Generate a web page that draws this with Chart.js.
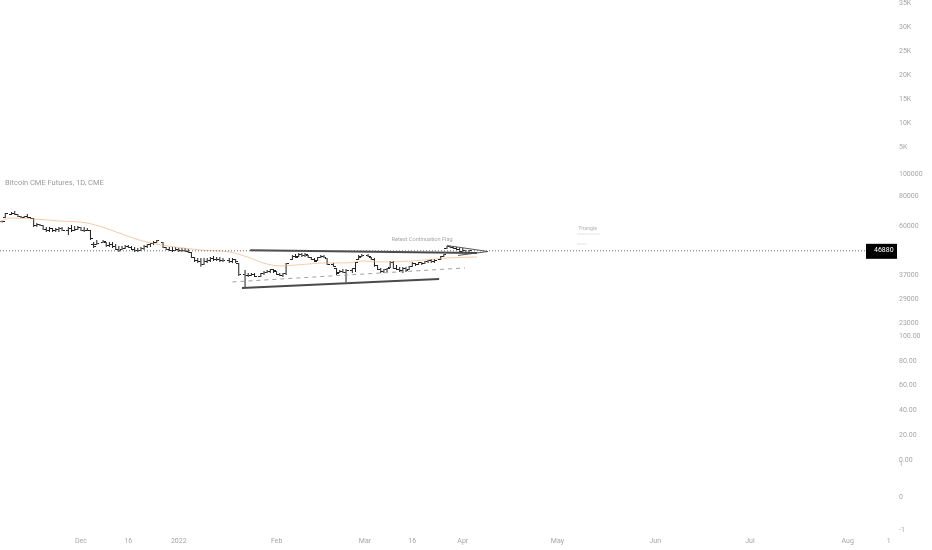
<!DOCTYPE html>
<html>
<head>
<meta charset="utf-8">
<script src="https://cdn.jsdelivr.net/npm/chart.js@4.4.1/dist/chart.umd.min.js"></script>
<style>
  html, body { margin: 0; padding: 0; background: #fff; }
  #wrap { width: 932px; height: 550px; }
</style>
</head>
<body>
<div id="wrap"><canvas id="chart" width="932" height="550"></canvas></div>
<script>
// day offsets from 1 Dec 2021, daily OHLC of the CME bitcoin future
const days = [-25, -24, -22, -21, -20, -19, -18, -17, -16, -15, -14, -13, -12, -11, -10, -9, -8, -7, -6, -4, -3, -2, -1,
  0, 1, 2, 3, 4, 5, 7, 8, 9, 10, 11, 12, 13, 14, 15, 16, 17, 18, 19, 20, 21, 22, 23, 24, 26, 27, 28, 29, 30,
  31, 32, 33, 34, 35, 36, 37, 38, 39, 40, 41, 42, 43, 44, 45, 47, 48, 49, 50, 52, 53, 54, 55, 57, 58, 59, 60,
  61, 62, 63, 64, 65, 67, 68, 69, 70, 71, 72, 73, 74, 75, 76, 77, 78, 80, 81, 82, 83, 84, 86, 87, 88, 89,
  91, 92, 93, 94, 95, 96, 97, 98, 99, 100, 101, 102, 103, 104, 105, 106, 107, 108, 109, 110, 111, 112,
  114, 115, 116, 117, 118, 119, 120, 121, 122, 123];
const opens = [62300, 64900, 67400, 68000, 67000, 66000, 65400, 65800, 65000, 64600, 60000, 60500, 60200, 58000, 57000, 58500, 57000, 57800, 58500, 57500, 58500, 57500, 58000,
  58800, 57500, 57000, 57300, 50000, 49800, 50800, 51000, 49200, 50000, 48800, 47700, 47500, 48000, 48800, 48500, 47500, 46800, 47000, 48000, 49000, 49800, 50400, 51000, 51000, 48500, 47500, 47200, 46900,
  47300, 46800, 47000, 46600, 46200, 43900, 42500, 42000, 41000, 42000, 42800, 43500, 43000, 43200, 42600, 42800, 42300, 42900, 41400, 37000, 36800, 36700, 37200, 36500, 37300, 38000, 38300,
  38800, 38300, 37200, 36900, 37500, 43000, 44300, 44200, 45200, 44600, 44800, 44000, 43000, 42400, 43800, 44500, 43600, 41000, 39400, 37800, 38300, 38000, 38600, 39200, 43000, 44200,
  44900, 44000, 43000, 40500, 39000, 38200, 38800, 39600, 41800, 39500, 39000, 38500, 39200, 38900, 40100, 41500, 40900, 41600, 41200, 42000, 42400, 42000,
  42900, 44200, 47800, 48800, 48400, 47900, 47500, 46600, 47000, 46300];
const highs = [63000, 68100, 68700, 69400, 67400, 66100, 66100, 67400, 65400, 64800, 61700, 61100, 60500, 59300, 59300, 58700, 58700, 59300, 59300, 59300, 60500, 59900, 59900,
  59300, 59300, 58700, 57600, 51100, 52200, 52200, 51100, 51100, 51100, 50100, 49200, 49200, 49700, 49700, 49200, 48700, 48200, 48700, 49700, 50100, 50600, 51600, 52200, 51100, 48700, 48700, 48700, 48700,
  48200, 48200, 48200, 47700, 46300, 44100, 43700, 43700, 43700, 43700, 44100, 44500, 44100, 44100, 43700, 43700, 43700, 43200, 41600, 38800, 37700, 37700, 37700, 37700, 38400, 38800, 39200,
  39200, 38400, 37700, 37700, 41600, 45000, 45400, 45900, 45900, 45900, 45000, 44100, 43700, 44100, 45000, 45000, 43700, 41600, 39600, 38800, 39200, 39200, 39600, 42000, 45000, 45400,
  45400, 44100, 43700, 40800, 39600, 39200, 39600, 42400, 42400, 40800, 40000, 40000, 40000, 40400, 42000, 41600, 42000, 42000, 42400, 42800, 43200, 43200,
  44500, 45400, 49200, 49200, 48700, 48700, 48200, 48200, 47300, 47300];
const lows = [62000, 64800, 66700, 66700, 65400, 64800, 64800, 64800, 64200, 59300, 59300, 59900, 57600, 56400, 56400, 56400, 56400, 56400, 57000, 54800, 56400, 57000, 57600,
  57000, 56400, 57000, 52200, 48200, 49700, 50600, 48700, 48700, 48200, 47300, 46300, 47300, 47700, 48200, 47300, 46300, 46300, 46800, 47300, 48200, 48700, 49700, 50600, 48200, 47300, 46800, 46300, 46800,
  46300, 46300, 46300, 45900, 43700, 42000, 41600, 40100, 40800, 41600, 42000, 42400, 42400, 42000, 42000, 41600, 41600, 41600, 36600, 32800, 36200, 36600, 36200, 36200, 36900, 37700, 37700,
  37700, 36900, 36600, 36200, 36900, 42800, 43700, 44100, 44100, 44100, 43700, 42800, 42000, 42400, 43700, 43700, 40800, 40100, 36900, 37700, 37700, 34500, 37700, 38000, 42800, 44100,
  44100, 42800, 40100, 38800, 37700, 37700, 38000, 39600, 39200, 38800, 38000, 37700, 38000, 38800, 40000, 40400, 40800, 40800, 41200, 41600, 41600, 41600,
  42800, 44100, 47700, 48200, 47700, 47300, 46300, 45900, 45900, 45900];
const closes = [62800, 67500, 68000, 67000, 66000, 65400, 65800, 65000, 64600, 60000, 60500, 60200, 58000, 57000, 58500, 57000, 57800, 58500, 57500, 58500, 57500, 58000, 58800,
  57500, 57000, 57300, 53000, 49000, 50500, 51500, 49200, 50000, 48800, 47700, 47000, 48000, 48800, 48500, 47500, 46800, 47000, 48000, 49000, 49800, 50400, 51000, 51800, 48500, 47500, 47200, 46800, 47300,
  46800, 47000, 46600, 46200, 43900, 42500, 42000, 41000, 42000, 42800, 43500, 43000, 43200, 42600, 42800, 42300, 42900, 42200, 37000, 36800, 36700, 37200, 36500, 37300, 38000, 38300, 38800,
  38500, 37200, 36900, 37500, 41200, 44300, 44000, 45200, 44600, 45300, 44000, 43000, 42200, 43800, 44500, 44000, 41000, 40200, 37500, 38300, 38000, 38600, 39200, 41600, 44000, 44900,
  44300, 43000, 40500, 39000, 38200, 38800, 39200, 41800, 39500, 39000, 38500, 39200, 38600, 40000, 41500, 40900, 41600, 41200, 42000, 42400, 42000, 42800,
  44200, 45000, 48800, 48400, 47900, 47500, 46600, 47000, 46300, 46880];

// orange moving average, read at a few places
const maDays = [-25.7, -22.5, -15.2, -6.7, 1.9, 20.9, 37.7, 47.2, 53.6, 57.7, 63.1, 68.5, 78, 84.3, 89.4, 94.8, 105.2, 116, 125.5];
const maValues = [62300, 64800, 64200, 62900, 61700, 51100, 47300, 46300, 43700, 41600, 40400, 40800, 41600, 41600, 42400, 42000, 42400, 43700, 44100];

const lastPrice = 46880;

// drawn trend lines: [day, price] pairs
const resistLine = [[53.6, 47100], [125.5, 45900]];
const supportLine = [[51, 32500], [113.5, 35500]];
const dashedLine = [[48, 34500], [121.7, 39600]];
const flagUpper = [[116, 49400], [129, 46550]];
const flagLower = [[119.5, 44800], [129, 46550]];
const triangleMarks = [[[157.2, 55300], [164.5, 55300]], [[157.2, 50100], [160.4, 50100]]];

// time axis
const tickDays = [0, 15, 31, 62, 90, 105, 121, 151, 182, 212, 243];
const tickLabels = ["Dec", "16", "2022", "Feb", "Mar", "16", "Apr", "May", "Jun", "Jul", "Aug"];
const xMin = -25.67;
const xMax = 248.8;

// right hand scales of the four panes
const volTicks = [5000, 10000, 15000, 20000, 25000, 30000, 35000];
const priceTicks = [23000, 29000, 37000, 60000, 80000, 100000];
const rsiTicks = [0, 20, 40, 60, 80, 100];
const oscTicks = [-1, 0, 1];

const chartTitle = "Bitcoin CME Futures, 1D, CME";
const flagText = { text: "Retest Continuation Flag", day: 108.1, price: 52200 };
const triangleText = { text: "Triangle", day: 160.6, price: 58100 };

const axisFont = { family: "Roboto", size: 7 };
const axisColor = "#a6a6a6";
const barColor = "#1e1e1e";

function tickImage(side) {
  const c = document.createElement("canvas");
  c.width = 5;
  c.height = 1;
  const g = c.getContext("2d");
  g.fillStyle = barColor;
  if (side === "open") g.fillRect(0, 0, 2, 1);
  else g.fillRect(3, 0, 2, 1);
  return c;
}

const toPoints = (pairs) => pairs.map(([x, y]) => ({ x, y }));

function lineSet(pairs, color, width, dash) {
  return {
    type: "line",
    data: toPoints(pairs),
    borderColor: color,
    borderWidth: width,
    borderDash: dash || [],
    pointRadius: 0,
    yAxisID: "yPrice",
  };
}

function paneAxis(weight, min, max, values, label, type) {
  return {
    type: type || "linear",
    position: "right",
    stack: "panes",
    stackWeight: weight,
    min: min,
    max: max,
    grid: { display: false, drawTicks: false },
    border: { display: false },
    afterBuildTicks: (s) => {
      s.ticks = values.map((v) => ({ value: v }));
    },
    afterFit: (s) => {
      s.width = 66;
      s.paddingTop = 0;
      s.paddingBottom = 0;
    },
    ticks: {
      autoSkip: false,
      padding: 33,
      color: axisColor,
      font: axisFont,
      callback: label,
    },
  };
}

const annotate = {
  id: "annotate",
  afterDatasetsDraw(chart) {
    const { ctx, chartArea, scales } = chart;
    const x = scales.x;
    const y = scales.yPrice;
    ctx.save();
    ctx.textBaseline = "middle";

    ctx.font = "7.5px Roboto";
    ctx.fillStyle = "#9a9a9a";
    ctx.textAlign = "left";
    ctx.fillText(chartTitle, 5, 183);

    ctx.font = "5.6px Roboto";
    ctx.fillStyle = "#a8a8a8";
    ctx.textAlign = "center";
    ctx.fillText(flagText.text, x.getPixelForValue(flagText.day), y.getPixelForValue(flagText.price));
    ctx.font = "5.3px Roboto";
    ctx.fillStyle = "#b4b4b4";
    ctx.fillText(triangleText.text, x.getPixelForValue(triangleText.day), y.getPixelForValue(triangleText.price));

    // clipped time label under the price scale
    ctx.font = "7px Roboto";
    ctx.fillStyle = axisColor;
    ctx.fillText("1", x.getPixelForValue(256), 541);

    // last price tag
    const py = y.getPixelForValue(lastPrice);
    ctx.fillStyle = "#000";
    ctx.fillRect(chartArea.right, py - 7, 31, 15);
    ctx.fillStyle = "#fff";
    ctx.font = "7px Roboto";
    ctx.textAlign = "left";
    ctx.fillText(String(lastPrice), chartArea.right + 8, py - 0.5);
    ctx.restore();
  },
};

new Chart(document.getElementById("chart"), {
  data: {
    datasets: [
      {
        type: "line",
        data: [{ x: xMin, y: lastPrice }, { x: xMax, y: lastPrice }],
        borderColor: "#6a6a6a",
        borderWidth: 1,
        borderDash: [1, 2],
        pointRadius: 0,
        yAxisID: "yPrice",
      },
      {
        type: "line",
        data: maDays.map((d, i) => ({ x: d, y: maValues[i] })),
        borderColor: "rgba(240, 168, 110, 0.6)",
        borderWidth: 1,
        cubicInterpolationMode: "monotone",
        pointRadius: 0,
        yAxisID: "yPrice",
      },
      lineSet(dashedLine, "#a0a0a0", 1, [4, 4]),
      lineSet(resistLine, "#4a4a4a", 2),
      lineSet(supportLine, "#4a4a4a", 2),
      lineSet(flagUpper, "#555", 1),
      lineSet(flagLower, "#555", 1),
      lineSet(triangleMarks[0], "#e3e3e3", 1),
      lineSet(triangleMarks[1], "#e3e3e3", 1),
      {
        type: "bar",
        data: days.map((d, i) => ({ x: d, y: [lows[i], highs[i]] })),
        backgroundColor: barColor,
        borderWidth: 0,
        barThickness: 1,
        inflateAmount: 0,
        yAxisID: "yPrice",
      },
      {
        type: "scatter",
        data: days.map((d, i) => ({ x: d, y: opens[i] })),
        pointStyle: tickImage("open"),
        pointRadius: 3,
        yAxisID: "yPrice",
      },
      {
        type: "scatter",
        data: days.map((d, i) => ({ x: d, y: closes[i] })),
        pointStyle: tickImage("close"),
        pointRadius: 3,
        yAxisID: "yPrice",
      },
    ],
  },
  options: {
    responsive: false,
    animation: false,
    events: [],
    layout: { padding: 0, autoPadding: false },
    plugins: { legend: { display: false }, tooltip: { enabled: false } },
    scales: {
      x: {
        type: "linear",
        position: "bottom",
        offset: false,
        min: xMin,
        max: xMax,
        grid: { display: false, drawTicks: false, offset: false },
        border: { display: false },
        afterBuildTicks: (s) => {
          s.ticks = tickDays.map((v) => ({ value: v }));
        },
        afterFit: (s) => {
          s.height = 18;
          s.paddingLeft = 0;
          s.paddingRight = 0;
        },
        ticks: {
          autoSkip: false,
          maxRotation: 0,
          padding: 5,
          color: axisColor,
          font: axisFont,
          callback: (v, i) => tickLabels[i],
        },
      },
      yVol: paneAxis(171, 0, 35625, volTicks, (v) => v / 1000 + "K"),
      yPrice: paneAxis(159, 21470, 103000, priceTicks, (v) => String(v), "logarithmic"),
      yRsi: paneAxis(132, -1.6, 104.8, rsiTicks, (v) => v.toFixed(2)),
      yOsc: paneAxis(70, -1.06, 1.06, oscTicks, (v) => String(v)),
    },
  },
  plugins: [annotate],
});
</script>
</body>
</html>
